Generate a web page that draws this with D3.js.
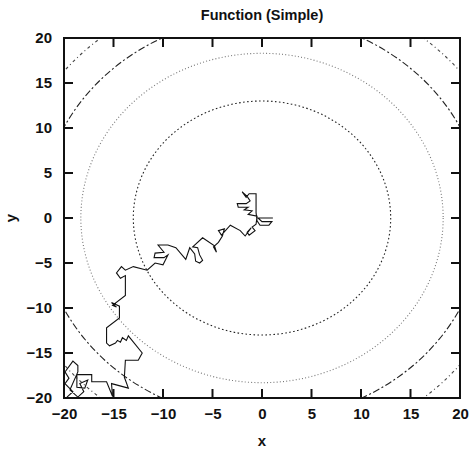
<!DOCTYPE html>
<html>
<head>
<meta charset="utf-8">
<script src="https://cdn.jsdelivr.net/npm/d3@7"></script>
<style>
  body { margin:0; background:#fff; }
  text { font-family:'Liberation Sans', Arial, sans-serif; font-weight:bold; fill:#111; }
</style>
</head>
<body>
<div id="canvas"></div>
<script>
// ---- DATA ----
var chartTitle = 'Function (Simple)';
var xTicks = [-20, -15, -10, -5, 0, 5, 10, 15, 20];
var yTicks = [-20, -15, -10, -5, 0, 5, 10, 15, 20];
// contour levels (radius in data units) and their dash patterns
var levelRadius = [13, 18.3, 22.4, 25.8];
var levelDash = ['1.6,2.4', '1,2.2', '7,2.5,2,2.5', '3,3,1,3'];
var levelColor = ['#222', '#777', '#222', '#444'];
// random walk path
var walkX = [1.1, -0.4, 0, 1.0, 0.7, -0.2, -0.5, -0.6, -0.6, -1.3, -1.6, -2.0, -1.5, -1.2, -1.6, -2.5, -2.4, -1.4, -1.8, -1.0,
  -1.4, -0.5, -0.6, -1.0, -0.7, -1.3, -1.5, -1.1, -1.7, -2.2, -3.2, -4.1, -4.4, -3.8, -4.0, -4.4, -4.9, -4.6, -4.8, -6.0,
  -7.0, -6.5, -6.3, -6.0, -6.3, -6.7, -6.8, -7.3, -7.7, -8.7, -9.5, -10.5, -9.9, -10.8, -10.9, -9.9, -9.5, -10.0, -10.8, -11.6,
  -13.0, -13.8, -14.2, -14.7, -14.3, -13.8, -13.8, -15.1, -14.7, -15.2, -14.4, -14.4, -15.7, -15.7, -15.4, -14.8, -14.6, -14.3, -14.1, -13.7,
  -13.5, -12.1, -12.5, -13.8, -13.9, -13.5, -15.2, -15.1, -15.7, -17.2, -17.2, -18.7, -18.7, -17.9, -17.6, -18.4, -18.0, -18.6, -19.4, -18.6,
  -18.6, -19.1, -19.9, -19.5, -19.9, -19.1, -19.7];
var walkY = [0, 0, -0.4, -0.4, -0.8, -0.8, -0.3, 0.6, 2.7, 2.7, 2.3, 2.9, 2.4, 1.9, 1.6, 1.6, 1.2, 1.2, 0.9, 0.8,
  0.4, 0.2, -0.7, -1.0, -1.4, -1.9, -1.6, -1.1, -2.0, -1.4, -0.8, -1.9, -1.4, -1.2, -2.0, -2.7, -3.2, -3.8, -3.1, -2.2,
  -3.2, -3.3, -4.1, -4.7, -5.0, -4.8, -4.0, -3.3, -4.6, -3.3, -3.0, -3.0, -3.8, -3.9, -4.4, -4.4, -4.1, -5.2, -5.0, -5.8,
  -5.4, -5.8, -5.4, -6.1, -6.7, -6.4, -8.6, -9.7, -9.9, -9.4, -9.8, -11.1, -12.2, -13.9, -14.2, -13.9, -13.6, -13.8, -13.3, -13.6,
  -13.1, -15.0, -15.8, -15.8, -17.7, -18.9, -18.4, -19.8, -18.2, -18.2, -17.4, -17.4, -18.8, -18.9, -18.0, -18.4, -19.3, -19.9, -19.1, -17.1,
  -16.4, -15.9, -17.1, -17.8, -18.4, -19.3, -19.9];

// ---- CONVENTIONS ----
var margin = {top:38, right:14, bottom:52, left:64};
var outerWidth = 474, outerHeight = 450;
var width = outerWidth - margin.left - margin.right,
    height = outerHeight - margin.top - margin.bottom;

var svg = d3.select('#canvas')
    .append('svg')
    .attr('width', outerWidth)
    .attr('height', outerHeight);

var plot = svg.append('g')
    .attr('transform', 'translate(' + margin.left + ',' + margin.top + ')');

// ---- SCALES ----
var scaleX = d3.scaleLinear().domain([-20, 20]).range([0, width]);
var scaleY = d3.scaleLinear().domain([-20, 20]).range([height, 0]);

plot.append('clipPath').attr('id', 'clip')
    .append('rect')
    .attr('width', width)
    .attr('height', height);

// ---- CONTOURS ----
plot.append('g').attr('clip-path', 'url(#clip)')
    .selectAll('.level')
    .data(levelRadius)
    .enter().append('ellipse')
    .attr('class', 'level')
    .attr('cx', scaleX(0))
    .attr('cy', scaleY(0))
    .attr('rx', function(d){ return scaleX(d) - scaleX(0); })
    .attr('ry', function(d){ return scaleY(0) - scaleY(d); })
    .style('fill', 'none')
    .style('stroke', function(d, i){ return levelColor[i]; })
    .style('stroke-width', 1.1)
    .style('stroke-dasharray', function(d, i){ return levelDash[i]; });

// ---- WALK ----
var walk = walkX.map(function(x, i){ return [x, walkY[i]]; });
var lineGenerator = d3.line()
    .x(function(d){ return scaleX(d[0]); })
    .y(function(d){ return scaleY(d[1]); });

plot.append('path')
    .datum(walk)
    .attr('clip-path', 'url(#clip)')
    .attr('d', lineGenerator)
    .style('fill', 'none')
    .style('stroke', '#111')
    .style('stroke-width', 1.1)
    .style('stroke-linejoin', 'miter');

// ---- AXES ----
var axisBottom = d3.axisBottom(scaleX).tickValues(xTicks).tickSize(0).tickPadding(10);
var axisLeft = d3.axisLeft(scaleY).tickValues(yTicks).tickSize(0).tickPadding(12);

var gx = plot.append('g').attr('class', 'axis axis-x')
    .attr('transform', 'translate(0,' + height + ')')
    .call(axisBottom);
var gy = plot.append('g').attr('class', 'axis axis-y')
    .call(axisLeft);
[gx, gy].forEach(function(g){
    g.select('.domain').remove();
    g.selectAll('text').style('font-size', '15px').style('fill', '#111');
});
gx.selectAll('text').attr('dy', '0.72em');

// inward ticks on all four sides
var tickLen = 9;
var ticks = plot.append('g').style('stroke', '#111').style('stroke-width', 2);
ticks.selectAll('.tb').data(xTicks).enter().append('line')
    .attr('x1', scaleX).attr('x2', scaleX)
    .attr('y1', height).attr('y2', height - tickLen);
ticks.selectAll('.tt').data(xTicks).enter().append('line')
    .attr('x1', scaleX).attr('x2', scaleX)
    .attr('y1', 0).attr('y2', tickLen);
ticks.selectAll('.tl').data(yTicks).enter().append('line')
    .attr('y1', scaleY).attr('y2', scaleY)
    .attr('x1', 0).attr('x2', tickLen);
ticks.selectAll('.tr').data(yTicks).enter().append('line')
    .attr('y1', scaleY).attr('y2', scaleY)
    .attr('x1', width).attr('x2', width - tickLen);

// frame
plot.append('rect')
    .attr('width', width)
    .attr('height', height)
    .style('fill', 'none')
    .style('stroke', '#111')
    .style('stroke-width', 2);

// ---- LABELS ----
svg.append('text')
    .attr('x', margin.left + width / 2)
    .attr('y', 20)
    .attr('text-anchor', 'middle')
    .style('font-size', '14.5px')
    .text(chartTitle);

svg.append('text')
    .attr('x', margin.left + width / 2)
    .attr('y', 446)
    .attr('text-anchor', 'middle')
    .style('font-size', '15px')
    .text('x');

svg.append('text')
    .attr('transform', 'translate(16,' + (margin.top + height / 2) + ') rotate(-90)')
    .attr('text-anchor', 'middle')
    .style('font-size', '15px')
    .text('y');
</script>
</body>
</html>
